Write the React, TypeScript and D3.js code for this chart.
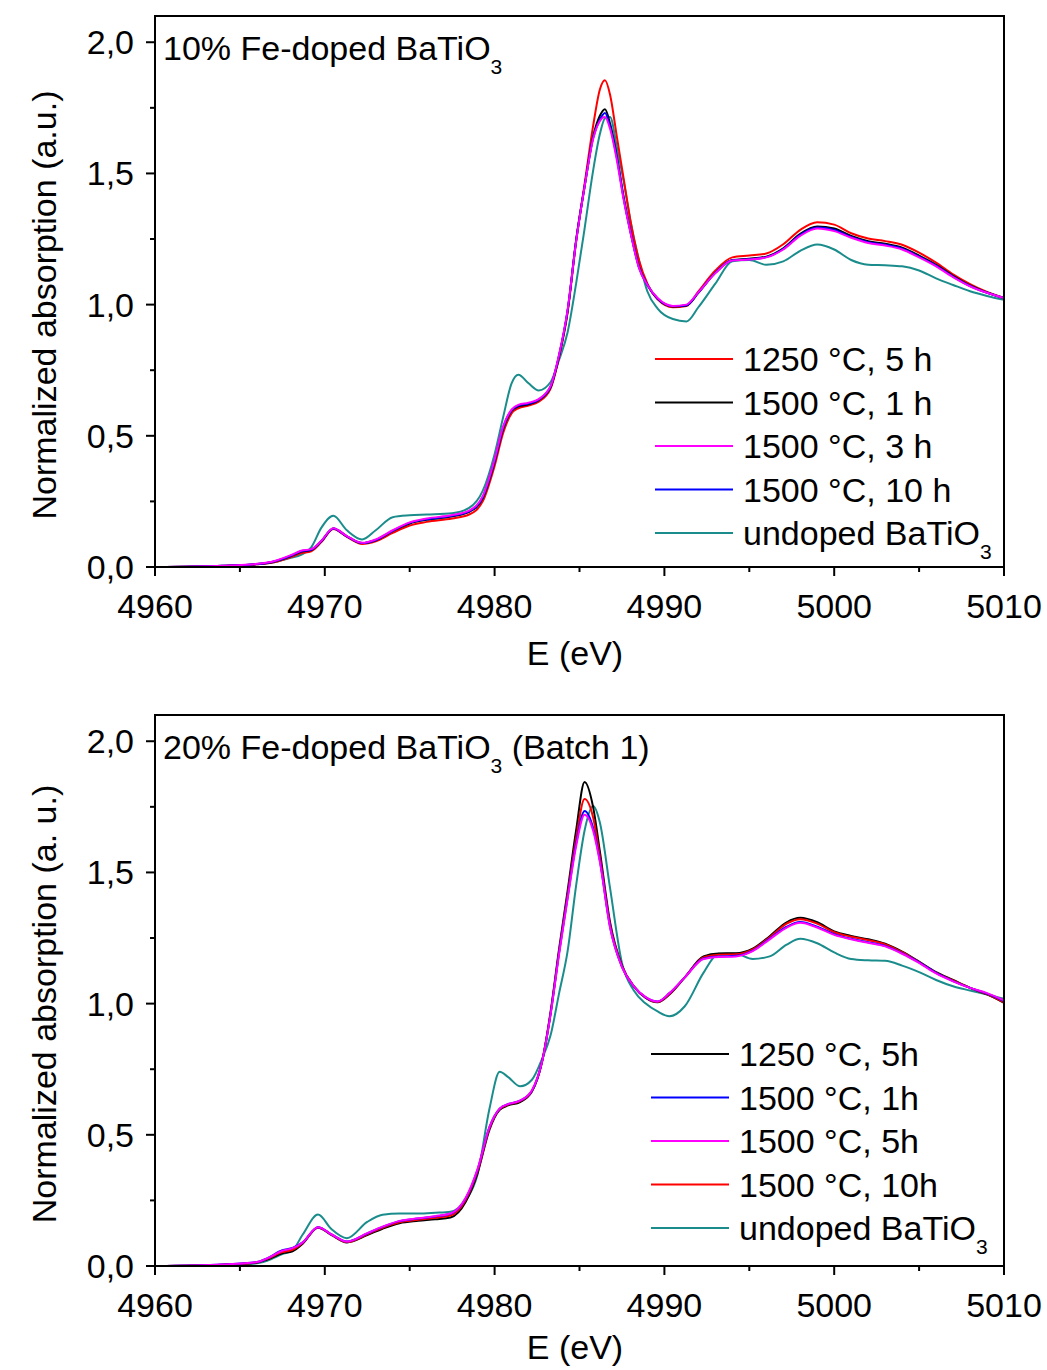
import React from "react";
import * as d3 from "d3";

// ---------- DATA ----------
const X_TICKS = [4960, 4970, 4980, 4990, 5000, 5010];
const X_MINOR = [4965, 4975, 4985, 4995, 5005];
const Y_TICKS = [0, 0.5, 1.0, 1.5, 2.0];
const Y_TICK_LABELS = ["0,0", "0,5", "1,0", "1,5", "2,0"];
const Y_MINOR = [0.25, 0.75, 1.25, 1.75];

// Top panel: 10% Fe-doped BaTiO3
const E_TOP = [
  4960, 4964, 4966, 4967, 4968, 4968.6, 4969.2, 4969.8, 4970.5, 4971.3, 4972.2, 4973, 4974, 4975, 4976,
  4977.5, 4978.5, 4979.3, 4980, 4980.5, 4981, 4981.4, 4982, 4982.6, 4983.3, 4983.8, 4984.3, 4984.8,
  4985.3, 4985.8, 4986.2, 4986.5, 4986.8, 4987.2, 4987.6, 4988, 4988.5, 4989, 4989.6, 4990.5, 4991.3,
  4992, 4993, 4994, 4995, 4996, 4997, 4998, 4999, 5000, 5001, 5002, 5003, 5004, 5005, 5006, 5007, 5008,
  5009, 5010,
];
const TOP_1250_5H = [
  0.0, 0.004, 0.01, 0.018, 0.038, 0.052, 0.06, 0.095, 0.145, 0.115, 0.088, 0.098, 0.13, 0.158, 0.172,
  0.185, 0.2, 0.25, 0.385, 0.51, 0.585, 0.605, 0.615, 0.63, 0.68, 0.8, 0.97, 1.24,
  1.46, 1.68, 1.82, 1.855, 1.8, 1.64, 1.48, 1.32, 1.17, 1.08, 1.02, 0.99, 0.995,
  1.05, 1.13, 1.18, 1.187, 1.195, 1.23, 1.285, 1.314, 1.305, 1.272, 1.252, 1.242, 1.228, 1.198, 1.16, 1.115, 1.078,
  1.048, 1.025,
];
const TOP_1500_1H = [
  0.0, 0.005, 0.011, 0.02, 0.042, 0.058, 0.065, 0.098, 0.147, 0.117, 0.091, 0.102, 0.137, 0.166, 0.18,
  0.193, 0.21, 0.262, 0.4, 0.525, 0.595, 0.612, 0.62, 0.636, 0.686, 0.805, 0.975, 1.245,
  1.45, 1.64, 1.72, 1.745, 1.69, 1.565, 1.41, 1.28, 1.145, 1.075, 1.022, 0.993, 0.997,
  1.045, 1.122, 1.17, 1.175, 1.183, 1.215, 1.27, 1.298, 1.29, 1.262, 1.242, 1.232, 1.217, 1.187, 1.152, 1.11, 1.073,
  1.046, 1.025,
];
const TOP_1500_3H = [
  0.0, 0.005, 0.012, 0.022, 0.045, 0.062, 0.068, 0.1, 0.148, 0.118, 0.092, 0.105, 0.14, 0.17, 0.185,
  0.198, 0.215, 0.27, 0.41, 0.535, 0.6, 0.618, 0.626, 0.64, 0.69, 0.81, 0.98, 1.24,
  1.45, 1.63, 1.7, 1.715, 1.67, 1.55, 1.4, 1.275, 1.14, 1.075, 1.025, 0.995, 1.0,
  1.047, 1.12, 1.168, 1.172, 1.18, 1.21, 1.262, 1.29, 1.28, 1.255, 1.235, 1.225, 1.21, 1.18, 1.146, 1.105, 1.07,
  1.045, 1.025,
];
const TOP_1500_10H = [
  0.0, 0.005, 0.011, 0.021, 0.043, 0.06, 0.066, 0.099, 0.147, 0.117, 0.091, 0.103, 0.138, 0.168, 0.182,
  0.195, 0.212, 0.266, 0.405, 0.53, 0.598, 0.615, 0.623, 0.638, 0.688, 0.808, 0.978, 1.243,
  1.45, 1.635, 1.705, 1.73, 1.68, 1.56, 1.405, 1.278, 1.143, 1.075, 1.023, 0.994, 0.998,
  1.046, 1.121, 1.169, 1.173, 1.181, 1.212, 1.266, 1.294, 1.285, 1.258, 1.238, 1.228, 1.213, 1.183, 1.149, 1.107, 1.071,
  1.045, 1.025,
];
const TOP_UNDOPED = [
  0.0, 0.004, 0.01, 0.018, 0.035, 0.046, 0.075, 0.15, 0.195, 0.14, 0.105, 0.14, 0.19, 0.197, 0.2,
  0.205, 0.225, 0.29, 0.43, 0.57, 0.7, 0.733, 0.7, 0.673, 0.705, 0.79, 0.895, 1.08,
  1.29, 1.51, 1.65, 1.71, 1.715, 1.6, 1.47, 1.32, 1.17, 1.05, 0.985, 0.945, 0.936,
  0.99, 1.08, 1.165, 1.17, 1.152, 1.165, 1.205, 1.229, 1.21, 1.17, 1.152, 1.15, 1.146, 1.13, 1.1, 1.075, 1.051,
  1.033, 1.018,
];

// Bottom panel: 20% Fe-doped BaTiO3 (Batch 1)
const E_BOT = [
  4960, 4964, 4966, 4966.6, 4967.5, 4968.1, 4968.7, 4969.6, 4970.4, 4971.3, 4972.5, 4973.4, 4974.4, 4975.5,
  4976.5, 4977.4, 4978.3, 4979, 4979.7, 4980.3, 4980.8, 4981.5, 4982.2, 4982.8, 4983.3, 4983.8, 4984.3,
  4984.8, 4985.3, 4985.8, 4986.2, 4986.8, 4987.5, 4988.2, 4988.9, 4989.6, 4990.3, 4991.2, 4992.3, 4993.2,
  4994.2, 4995.2, 4996.2, 4997.2, 4998, 4999, 5000, 5001, 5002, 5003, 5004, 5005, 5006, 5007, 5008, 5009, 5010,
];
const BOT_1250_5H = [
  0.0, 0.005, 0.013, 0.025, 0.048, 0.056, 0.085, 0.146, 0.118, 0.09, 0.118, 0.142, 0.163, 0.172,
  0.178, 0.185, 0.245, 0.355, 0.52, 0.595, 0.612, 0.625, 0.665, 0.78, 0.97, 1.21, 1.43,
  1.66, 1.845, 1.75, 1.58, 1.31, 1.145, 1.066, 1.022, 1.005, 1.035, 1.1, 1.18, 1.191,
  1.192, 1.21, 1.257, 1.31, 1.327, 1.31, 1.275, 1.258, 1.245, 1.228, 1.198, 1.16, 1.12, 1.09, 1.06, 1.035, 1.003,
];
const BOT_1500_1H = [
  0.0, 0.006, 0.015, 0.029, 0.06, 0.069, 0.09, 0.148, 0.12, 0.093, 0.124, 0.149, 0.171, 0.181,
  0.189, 0.199, 0.258, 0.368, 0.53, 0.6, 0.617, 0.63, 0.668, 0.78, 0.962, 1.195, 1.405,
  1.61, 1.734, 1.67, 1.545, 1.292, 1.14, 1.066, 1.024, 1.008, 1.04, 1.1, 1.172, 1.18,
  1.182, 1.202, 1.248, 1.293, 1.311, 1.293, 1.265, 1.247, 1.234, 1.22, 1.192, 1.157, 1.117, 1.086, 1.06, 1.038, 1.01,
];
const BOT_1500_5H = [
  0.0, 0.006, 0.015, 0.029, 0.058, 0.068, 0.09, 0.148, 0.12, 0.093, 0.125, 0.15, 0.172, 0.182,
  0.19, 0.2, 0.26, 0.37, 0.53, 0.6, 0.617, 0.63, 0.67, 0.78, 0.96, 1.19, 1.4,
  1.6, 1.72, 1.66, 1.54, 1.29, 1.14, 1.066, 1.025, 1.008, 1.04, 1.1, 1.17, 1.178,
  1.18, 1.2, 1.245, 1.29, 1.308, 1.29, 1.262, 1.245, 1.232, 1.218, 1.19, 1.155, 1.115, 1.085, 1.06, 1.04, 1.012,
];
const BOT_1500_10H = [
  0.0, 0.005, 0.014, 0.027, 0.053, 0.062, 0.088, 0.147, 0.119, 0.091, 0.121, 0.146, 0.167, 0.176,
  0.184, 0.192, 0.252, 0.362, 0.525, 0.598, 0.615, 0.628, 0.667, 0.78, 0.965, 1.2, 1.415,
  1.63, 1.78, 1.71, 1.56, 1.3, 1.143, 1.066, 1.023, 1.006, 1.037, 1.1, 1.176, 1.186,
  1.188, 1.207, 1.253, 1.305, 1.322, 1.305, 1.272, 1.255, 1.242, 1.226, 1.196, 1.158, 1.118, 1.088, 1.06, 1.036, 1.005,
];
const BOT_UNDOPED = [
  0.0, 0.004, 0.01, 0.02, 0.045, 0.06, 0.12, 0.196, 0.14, 0.106, 0.168, 0.195, 0.2, 0.2,
  0.203, 0.207, 0.25, 0.35, 0.6, 0.74, 0.72, 0.685, 0.71, 0.79, 0.88, 1.04, 1.2,
  1.45, 1.66, 1.753, 1.69, 1.44, 1.155, 1.05, 1.0, 0.97, 0.952, 0.99, 1.117, 1.19,
  1.19, 1.17, 1.18, 1.225, 1.247, 1.23, 1.195, 1.17, 1.165, 1.163, 1.145, 1.12, 1.09, 1.066, 1.05, 1.035, 1.018,
];

const TOP_LABELS = ["1250 °C, 5 h", "1500 °C, 1 h", "1500 °C, 3 h", "1500 °C, 10 h", "undoped BaTiO"];
const BOT_LABELS = ["1250 °C, 5h", "1500 °C, 1h", "1500 °C, 5h", "1500 °C, 10h", "undoped BaTiO"];

const RED = "#ff0000";
const BLACK = "#000000";
const MAGENTA = "#ff00ff";
const BLUE = "#0000ff";
const TEAL = "#1b8c8c";

const FONT = "Arial, 'Liberation Sans', Helvetica, sans-serif";

type Series = { label: string; color: string; values: number[]; sub?: boolean };

function Panel(props: {
  y0: number;
  energies: number[];
  series: Series[];
  drawOrder: number[];
  title: string;
  titleRest: string;
  yLabel: string;
  legendX: number;
  legendY: number;
  xLabelDy: number;
}) {
  const { y0, energies, series, drawOrder, title, titleRest, yLabel, legendX, legendY, xLabelDy } = props;
  const left = 155;
  const right = 1004;
  const h = 551;
  const x = d3.scaleLinear().domain([4960, 5010]).range([left, right]);
  const y = d3.scaleLinear().domain([0, 2.1]).range([y0 + h, y0]);
  const bottom = y0 + h;
  const line = d3
    .line<[number, number]>()
    .x((d) => x(d[0]))
    .y((d) => y(d[1]))
    .curve(d3.curveMonotoneX);
  const clipId = `clip${y0}`;
  const legendStep = 43.5;
  return (
    <g fontFamily={FONT}>
      <defs>
        <clipPath id={clipId}>
          <rect x={left} y={y0} width={right - left} height={h} />
        </clipPath>
      </defs>
      <g clipPath={`url(#${clipId})`}>
        {drawOrder.map((i) => {
          const s = series[i];
          const pts = energies.map((e, k) => [e, s.values[k]] as [number, number]);
          return <path key={i} d={line(pts) || ""} fill="none" stroke={s.color} strokeWidth={2} strokeLinejoin="round" />;
        })}
      </g>
      <rect x={left} y={y0} width={right - left} height={h} fill="none" stroke="#000" strokeWidth={2} />
      {X_TICKS.map((t) => (
        <g key={t}>
          <line x1={x(t)} x2={x(t)} y1={bottom} y2={bottom + 9} stroke="#000" strokeWidth={2} />
          <text x={x(t)} y={bottom + 51} fontSize={34} textAnchor="middle">
            {t}
          </text>
        </g>
      ))}
      {X_MINOR.map((t) => (
        <line key={t} x1={x(t)} x2={x(t)} y1={bottom} y2={bottom + 5} stroke="#000" strokeWidth={2} />
      ))}
      {Y_TICKS.map((t, i) => (
        <g key={t}>
          <line x1={left - 9} x2={left} y1={y(t)} y2={y(t)} stroke="#000" strokeWidth={2} />
          <text x={left - 21} y={y(t) + 12} fontSize={34} textAnchor="end">
            {Y_TICK_LABELS[i]}
          </text>
        </g>
      ))}
      {Y_MINOR.map((t) => (
        <line key={t} x1={left - 5} x2={left} y1={y(t)} y2={y(t)} stroke="#000" strokeWidth={2} />
      ))}
      <text x={575} y={bottom + xLabelDy} fontSize={34} textAnchor="middle">
        E (eV)
      </text>
      <text transform={`translate(56, ${y0 + 289}) rotate(-90)`} fontSize={34} textAnchor="middle">
        {yLabel}
      </text>
      <text x={163} y={y0 + 44} fontSize={34}>
        {title}
        <tspan fontSize={21} dy={14}>3</tspan>
        <tspan dy={-14}>{titleRest}</tspan>
      </text>
      {series.map((s, i) => {
        const ly = legendY + i * legendStep;
        return (
          <g key={s.label}>
            <line x1={legendX} x2={legendX + 78} y1={ly} y2={ly} stroke={s.color} strokeWidth={2} />
            <text x={legendX + 88} y={ly + 12} fontSize={34}>
              {s.label}
              {s.sub ? (
                <tspan fontSize={21} dy={14}>
                  3
                </tspan>
              ) : null}
            </text>
          </g>
        );
      })}
    </g>
  );
}

export default function App() {
  const topSeries: Series[] = [
    { label: TOP_LABELS[0], color: RED, values: TOP_1250_5H },
    { label: TOP_LABELS[1], color: BLACK, values: TOP_1500_1H },
    { label: TOP_LABELS[2], color: MAGENTA, values: TOP_1500_3H },
    { label: TOP_LABELS[3], color: BLUE, values: TOP_1500_10H },
    { label: TOP_LABELS[4], color: TEAL, values: TOP_UNDOPED, sub: true },
  ];
  const botSeries: Series[] = [
    { label: BOT_LABELS[0], color: BLACK, values: BOT_1250_5H },
    { label: BOT_LABELS[1], color: BLUE, values: BOT_1500_1H },
    { label: BOT_LABELS[2], color: MAGENTA, values: BOT_1500_5H },
    { label: BOT_LABELS[3], color: RED, values: BOT_1500_10H },
    { label: BOT_LABELS[4], color: TEAL, values: BOT_UNDOPED, sub: true },
  ];
  return (
    <svg
      width={1047}
      height={1370}
      style={{ position: "absolute", left: 0, top: 0, background: "#fff" }}
    >
      <rect width={1047} height={1370} fill="#fff" />
      <Panel
        y0={16}
        energies={E_TOP}
        series={topSeries}
        drawOrder={[4, 0, 1, 3, 2]}
        title="10% Fe-doped BaTiO"
        titleRest=""
        yLabel="Normalized absorption (a.u.)"
        legendX={655}
        legendY={359}
        xLabelDy={98}
      />
      <Panel
        y0={715}
        energies={E_BOT}
        series={botSeries}
        drawOrder={[4, 0, 3, 1, 2]}
        title="20% Fe-doped BaTiO"
        titleRest=" (Batch 1)"
        yLabel="Normalized absorption (a. u.)"
        legendX={651}
        legendY={1054}
        xLabelDy={93}
      />
    </svg>
  );
}
